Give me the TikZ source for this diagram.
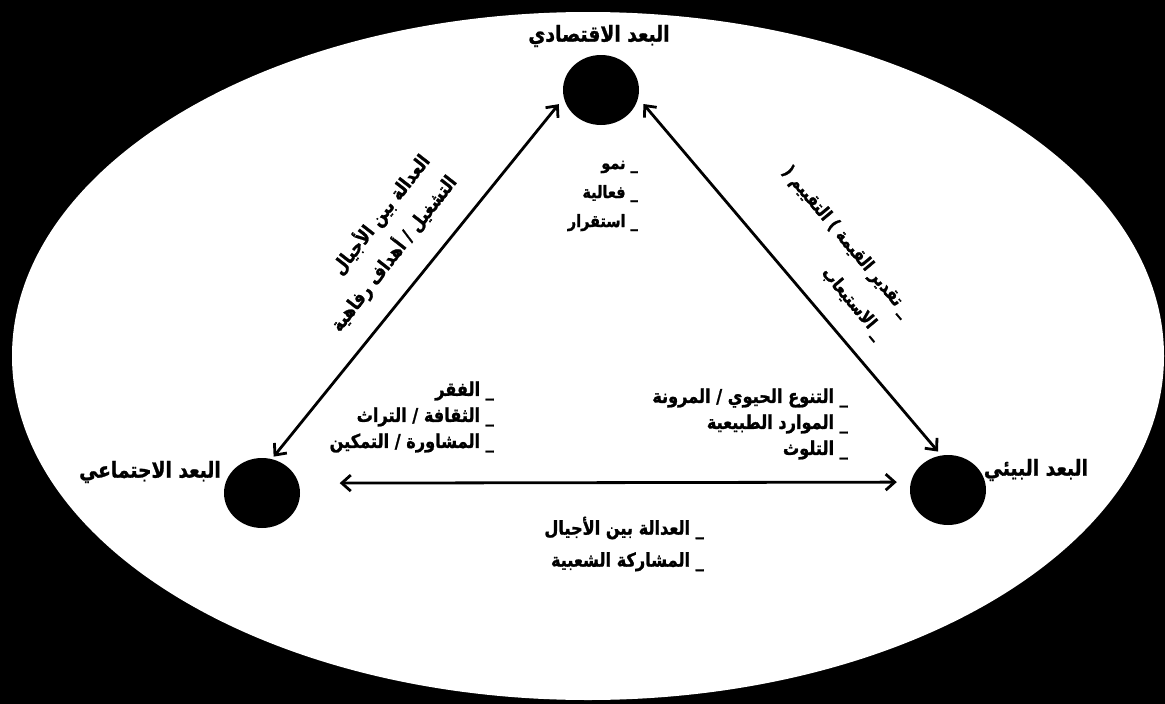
\documentclass[tikz,border=0pt]{standalone}
\usepackage{fontspec}
\TeXXeTstate=1
\newfontfamily\arabicfont[Script=Arabic, FakeStretch=0.85, BoldFeatures={FakeBold=1.2}]{DejaVu Sans}
\usetikzlibrary{shapes.geometric, arrows.meta, positioning}
\newcommand{\rtl}[1]{\beginR #1\endR}

\begin{document}
\begin{tikzpicture}[x=1pt, y=-1pt,
		dim/.style={ellipse, fill=black, minimum width=76pt, minimum height=70pt, inner sep=0pt},
		dimlabel/.style={inner sep=0pt, font=\arabicfont\bfseries\fontsize{22}{24}\selectfont},
		itemlist/.style={inner sep=0pt, align=right, font=\arabicfont\bfseries\fontsize{19}{26}\selectfont},
		link/.style={{Straight Barb[length=9pt,width=16pt]}-{Straight Barb[length=9pt,width=16pt]}, line width=2.8pt}]
		% background and frame
		\fill[black] (0,0) rectangle (1165,704);
		\fill[white] (588,356) ellipse [x radius=576pt, y radius=344pt];
		% the three dimensions
		\node[dim] (eco) at (601,90) {};
		\node[dim] (soc) at (262,493) {};
		\node[dim] (env) at (948,490) {};
		\node[dimlabel] (eco_label) at (599,36) {\rtl{البعد الاقتصادي}};
		\node[dimlabel] (soc_label) at (150,472) {\rtl{البعد الاجتماعي}};
		\node[dimlabel] (env_label) at (1036,470) {\rtl{البعد البيئي}};
		% links
		\draw[link, shorten <=3pt, shorten >=8pt] (soc.74) -- (eco.192);
		\draw[link, shorten <=8pt, shorten >=5pt] (eco.348) -- (env.101);
		\draw[link, shorten <=41pt, shorten >=14pt] (soc.15) -- (env.168);
		% items
		\node[itemlist, anchor=east, font=\arabicfont\bfseries\fontsize{17}{29}\selectfont] (eco_items) at (638,196) {\rtl{\_ نمو}\\\rtl{\_ فعالية}\\\rtl{\_ استقرار}};
		\node[itemlist, anchor=east] (soc_items) at (494,417) {\rtl{\_ الفقر}\\\rtl{\_ الثقافة / التراث}\\\rtl{\_ المشاورة / التمكين}};
		\node[itemlist, anchor=east] (env_items) at (848,424) {\rtl{\_ التنوع الحيوي / المرونة}\\\rtl{\_ الموارد الطبيعية}\\\rtl{\_ التلوث}};
		\node[itemlist, anchor=east, font=\arabicfont\bfseries\fontsize{19}{32}\selectfont] (soc_env_items) at (704,544) {\rtl{\_ العدالة بين الأجيال}\\\rtl{\_ المشاركة الشعبية}};
		\node[itemlist, rotate=52, font=\arabicfont\bfseries\fontsize{19}{34}\selectfont] (soc_eco_items) at (380,243) {\rtl{العدالة بين الأجيال}\\\rtl{التشغيل / أهداف رفاهية}};
		\node[itemlist, rotate=-50, font=\arabicfont\bfseries\fontsize{18}{35}\selectfont] (eco_env_items) at (833,253) {\rtl{\_ تقدير القيمة ) التقييم (}\\\rtl{\_ الاستيعاب}};
	\end{tikzpicture}
\end{document}
